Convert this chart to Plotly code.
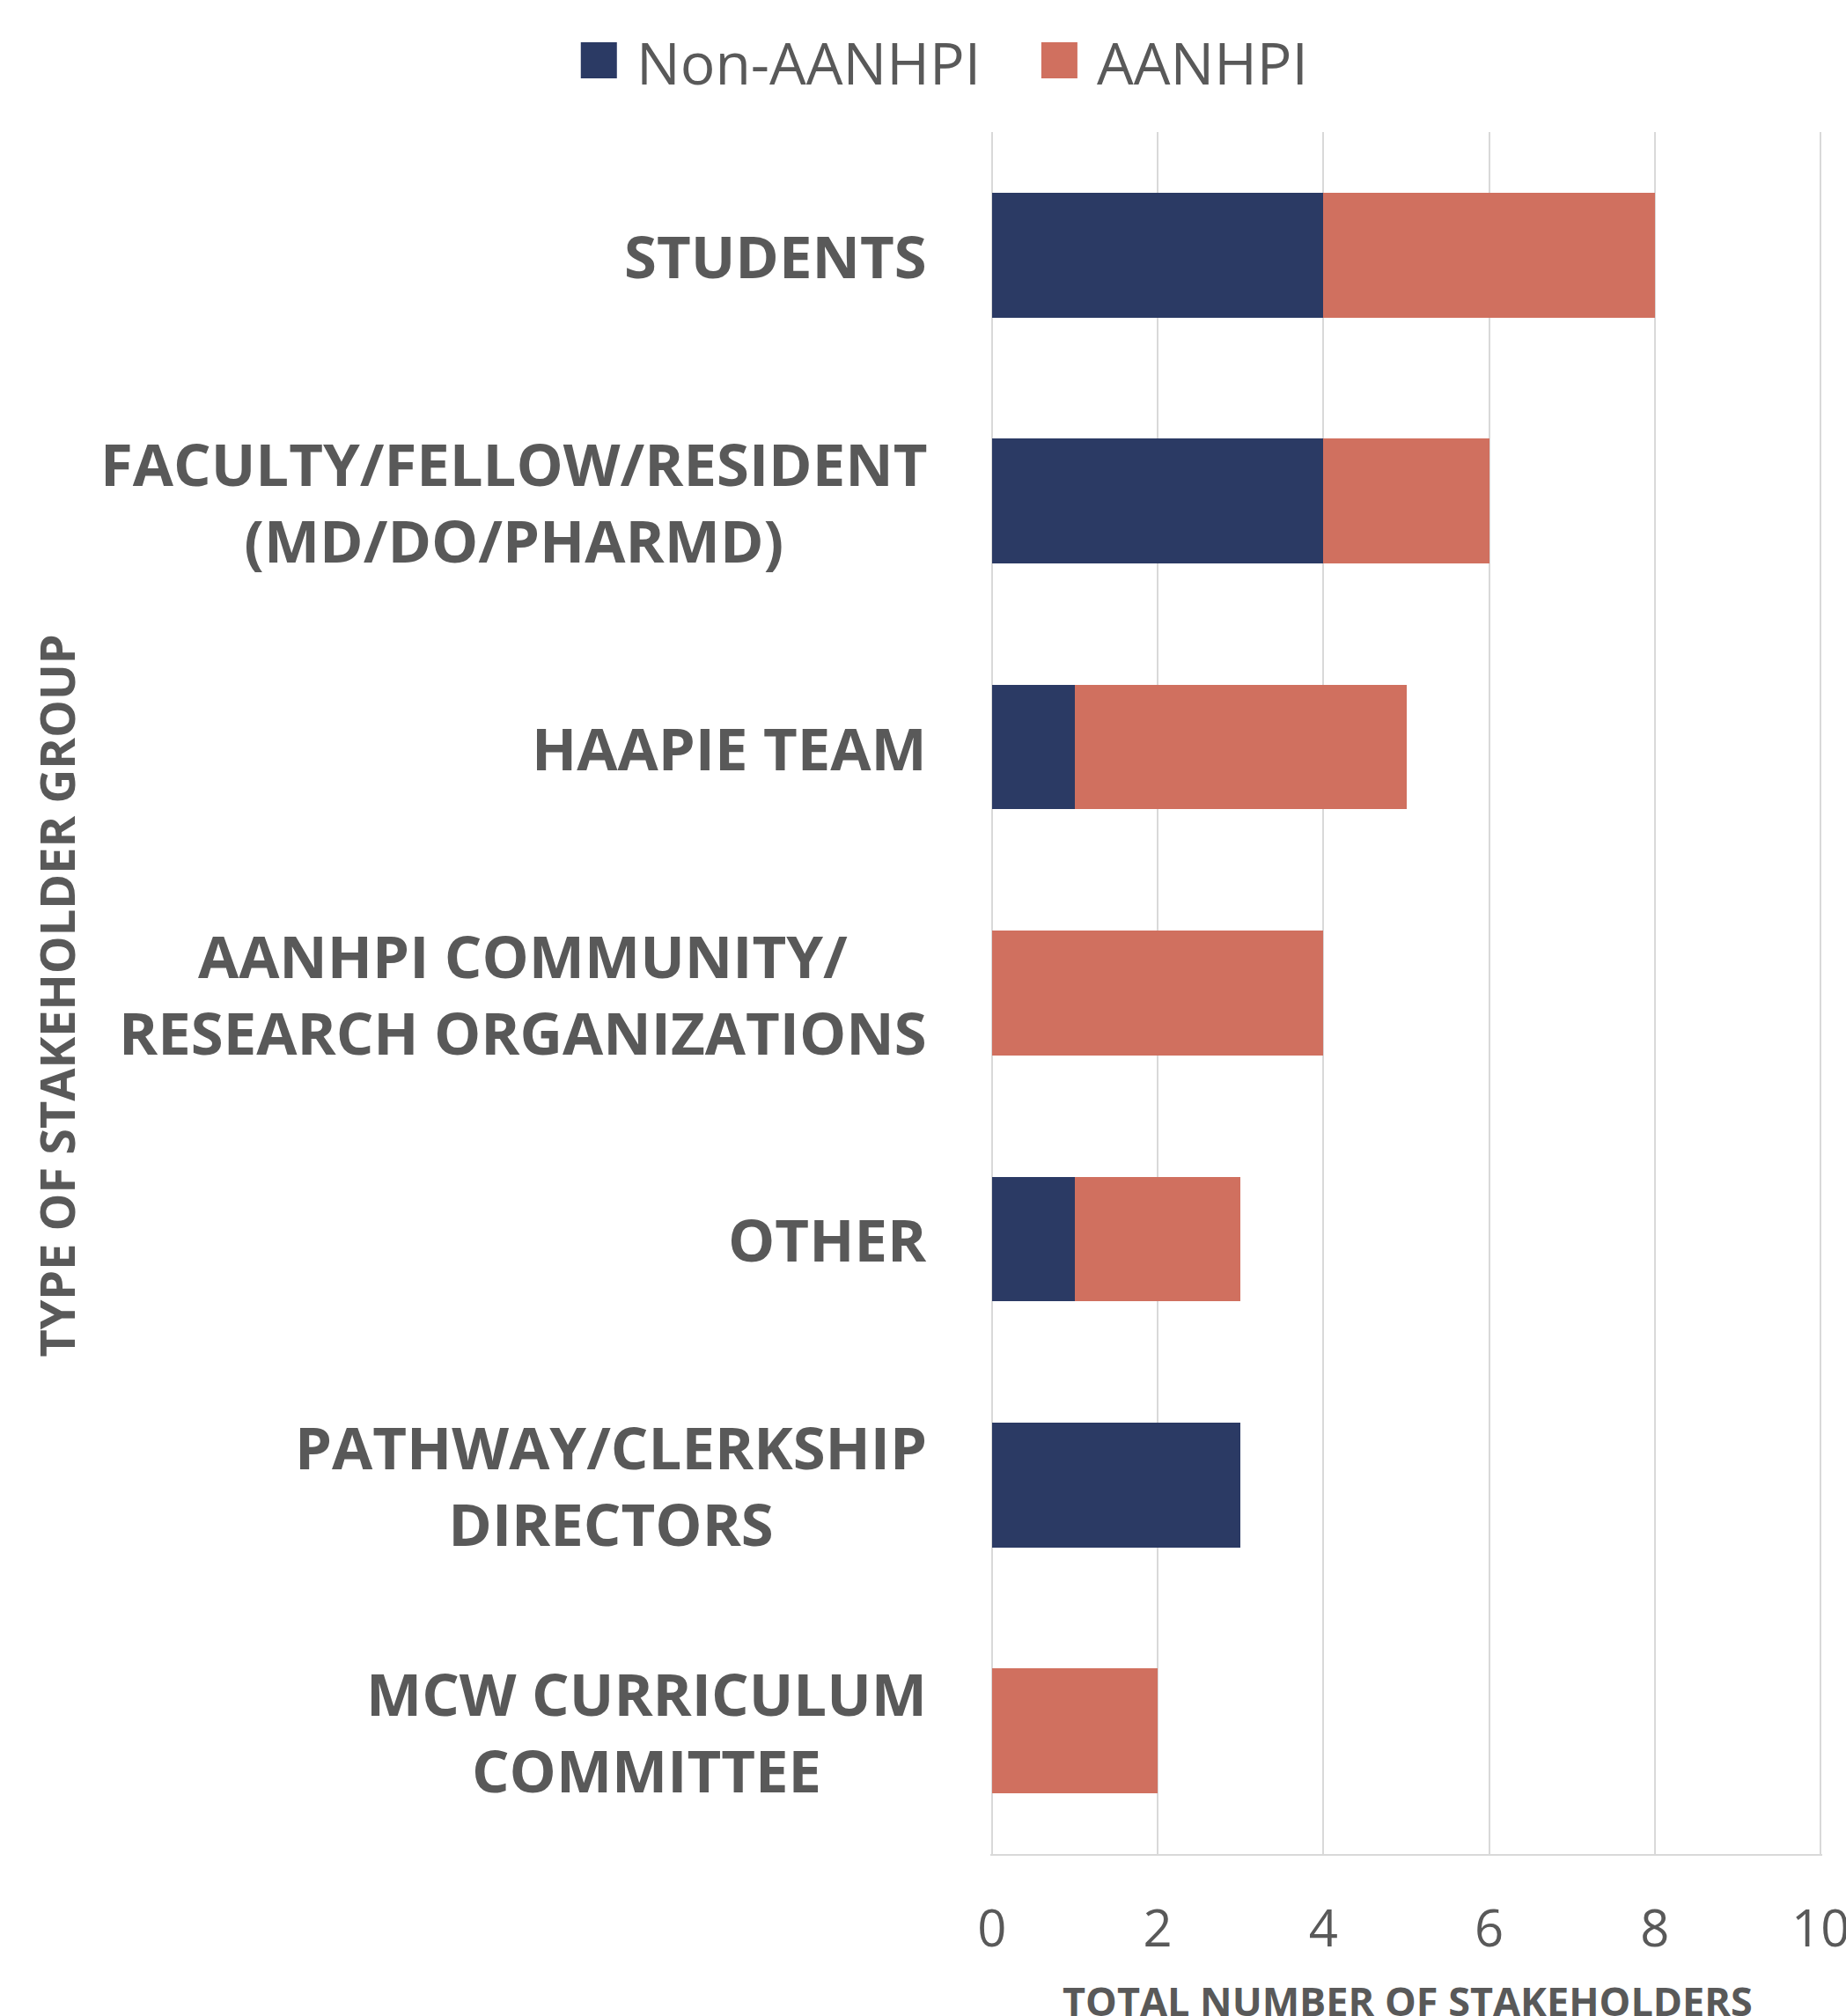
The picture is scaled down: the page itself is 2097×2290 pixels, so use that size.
import plotly.graph_objects as go

# ---------------- data ----------------
categories = [
    "STUDENTS",
    "FACULTY/FELLOW/RESIDENT<br>(MD/DO/PHARMD)",
    "HAAPIE TEAM",
    "AANHPI COMMUNITY/<br>RESEARCH ORGANIZATIONS",
    "OTHER",
    "PATHWAY/CLERKSHIP<br>DIRECTORS",
    "MCW CURRICULUM<br>COMMITTEE",
]
non_aanhpi = [4, 4, 1, 0, 1, 3, 0]
aanhpi = [4, 2, 4, 4, 2, 0, 2]
series_names = ["Non-AANHPI", "AANHPI"]
x_ticks = [0, 2, 4, 6, 8, 10]
x_title = "TOTAL NUMBER OF STAKEHOLDERS"
y_title = "TYPE OF STAKEHOLDER GROUP"

# ---------------- style ----------------
W, H = 2097, 2290
X0PX, X10PX = 1127, 2068          # pixel positions of 0 and 10
T, B = 150, 2106
PAD = 0.02                         # tiny range padding so edge gridlines are drawn
unit = (X10PX - X0PX) / 10.0
L = X0PX - PAD * unit
R = X10PX + PAD * unit
NAVY = "#2B3A64"
SALMON = "#D0705F"
TEXT = "#595959"
GRID = "#D9D9D9"
FONT = "Open Sans"


def px(x):
    return (x - L) / (R - L)


def py(y):
    return (B - y) / (B - T)


fig = go.Figure()
fig.add_trace(go.Bar(
    y=categories, x=non_aanhpi, name=series_names[0], orientation="h",
    marker=dict(color=NAVY, line=dict(width=0)), showlegend=False,
))
fig.add_trace(go.Bar(
    y=categories, x=aanhpi, name=series_names[1], orientation="h",
    marker=dict(color=SALMON, line=dict(width=0)), showlegend=False,
))

fig.update_layout(
    width=W, height=H,
    margin=dict(l=L, r=W - R, t=T, b=H - B, autoexpand=False),
    barmode="stack", bargap=0.493,
    plot_bgcolor="white", paper_bgcolor="white",
    font=dict(family=FONT, color=TEXT),
)
fig.update_xaxes(
    range=[-PAD, 10 + PAD], tickvals=x_ticks, ticktext=[str(v) for v in x_ticks],
    showgrid=True, gridcolor=GRID, gridwidth=2, zeroline=False,
    showline=True, linecolor=GRID, linewidth=2, ticks="",
    tickfont=dict(size=58, family=FONT, color=TEXT),
    ticklabelstandoff=33, ticklabeloverflow="allow", automargin=False,
)
fig.update_yaxes(
    categoryorder="array", categoryarray=categories, range=[6.5, -0.5],
    showticklabels=False, showgrid=False, zeroline=False, showline=False,
    ticks="", automargin=False,
)

annotations = []
# category labels (centered multi-line, right-aligned block)
for c in categories:
    annotations.append(dict(
        x=px(X0PX), xref="paper", y=c, yref="y", xanchor="right", yanchor="middle",
        xshift=-72, text=f"<b>{c}</b>", showarrow=False, align="center",
        font=dict(family=FONT, size=67, color=TEXT),
    ))
# axis titles
annotations.append(dict(
    x=px(64), xref="paper", y=py(1131), yref="paper", xanchor="center", yanchor="middle",
    text=f"<b>{y_title}</b>", textangle=-90, showarrow=False,
    font=dict(family=FONT, size=54, color=TEXT),
))
annotations.append(dict(
    x=px(1599), xref="paper", y=0, yref="paper", xanchor="center", yanchor="top",
    yshift=-134, text=f"<b>{x_title}</b>", showarrow=False,
    font=dict(family=FONT, size=45, color=TEXT),
))

# custom legend (large swatches)
shapes = []
legend_items = [(series_names[0], NAVY, 660, 721), (series_names[1], SALMON, 1183, 1244)]
for name, col, sx, tx in legend_items:
    shapes.append(dict(
        type="rect", xref="paper", yref="paper",
        x0=px(sx), x1=px(sx + 41), y0=py(89), y1=py(48),
        fillcolor=col, line=dict(width=0),
    ))
    annotations.append(dict(
        x=px(tx), xref="paper", y=py(70), yref="paper", xanchor="left", yanchor="middle",
        text=name, showarrow=False, font=dict(family=FONT, size=66, color=TEXT),
    ))

fig.update_layout(annotations=annotations, shapes=shapes)
fig.write_html(
    "out.html",
    config={"displayModeBar": False},
    post_script="document.body.style.margin='0px';",
)
